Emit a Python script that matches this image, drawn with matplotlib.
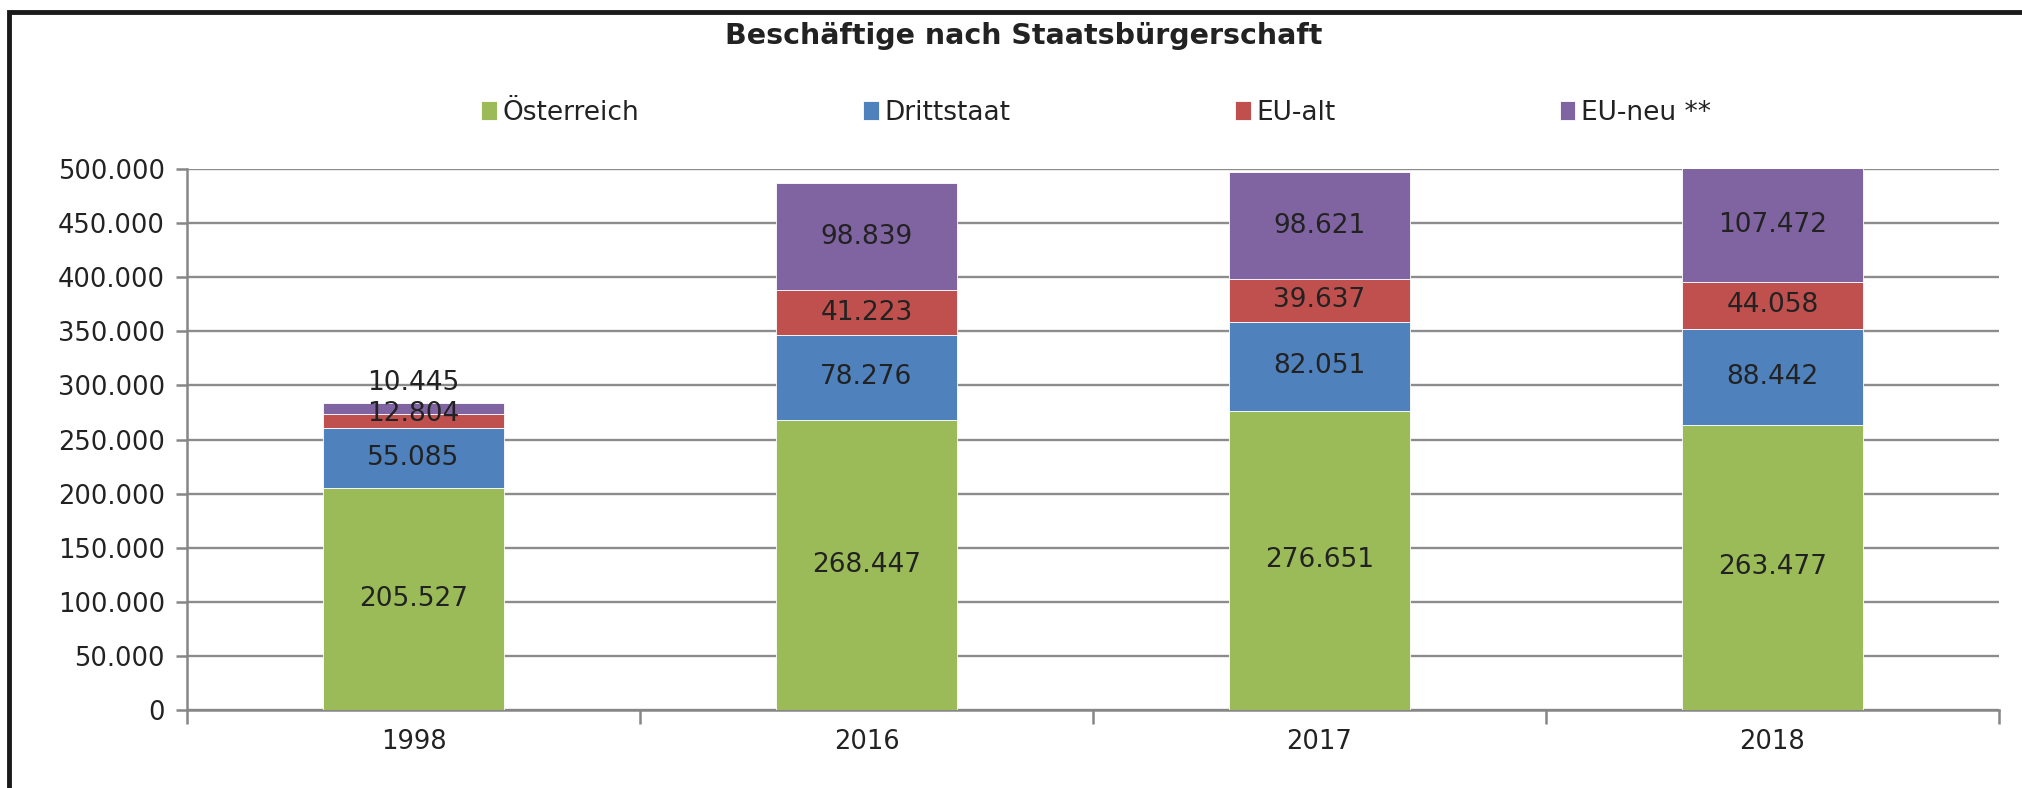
import matplotlib
matplotlib.use("Agg")
import matplotlib.pyplot as plt
from matplotlib.patches import Rectangle
import numpy as np

years = ["1998", "2016", "2017", "2018"]
oesterreich = [205527, 268447, 276651, 263477]
drittstaat = [55085, 78276, 82051, 88442]
eu_alt = [12804, 41223, 39637, 44058]
eu_neu = [10445, 98839, 98621, 107472]
series_names = ["Österreich", "Drittstaat", "EU-alt", "EU-neu **"]
colors = ["#9BBB59", "#4F81BD", "#C0504D", "#8064A2"]
y_ticks = [0, 50000, 100000, 150000, 200000, 250000, 300000, 350000, 400000, 450000, 500000]
title = "Beschäftige nach Staatsbürgerschaft"

def fmt(v):
    return f"{v:,}".replace(",", ".")

plt.rcParams['font.family'] = ['DejaVu Sans']
fig = plt.figure(figsize=(20.22, 7.88), dpi=100)
ax = fig.add_axes([187/2022, 1-710/788, (1999-187)/2022, (710-169)/788])

x = np.arange(len(years))
width = 0.4
bottom = np.zeros(len(years))
series = [oesterreich, drittstaat, eu_alt, eu_neu]
for s, (vals, name, col) in enumerate(zip(series, series_names, colors)):
    vals = np.array(vals, dtype=float)
    ax.bar(x, vals, width, bottom=bottom, color=col, label=name,
           edgecolor="white", linewidth=0.6, zorder=3)
    for i, v in enumerate(vals):
        dy = 0
        if i == 0 and s == 3:
            dy = 18.5
        elif i == 0 and s == 2:
            dy = 5.0
        top = min(bottom[i] + v, 500000)
        yc = (bottom[i] + top) / 2
        ax.annotate(fmt(int(v)), (x[i], yc), xytext=(0, dy), textcoords="offset points",
                    ha="center", va="center", fontsize=19, color="#222222", zorder=5,
                    annotation_clip=False)
    bottom += vals

ax.set_ylim(0, 500000)
ax.set_xlim(-0.5, 3.5)
ax.set_yticks(y_ticks)
ax.set_yticklabels([fmt(t) for t in y_ticks], fontsize=18.5, color="#222222")
ax.set_xticks([-0.5, 0.5, 1.5, 2.5, 3.5])
ax.set_xticklabels([])
ax.set_xticks(x, minor=True)
ax.set_xticklabels(years, minor=True, fontsize=18.5, color="#222222")
ax.tick_params(axis="x", which="major", direction="out", length=10, width=1.8, color="#868686")
ax.tick_params(axis="x", which="minor", length=0, pad=14)
ax.tick_params(axis="y", direction="out", length=8, width=1.8, color="#868686", pad=8)
ax.grid(axis="y", color="#8c8c8c", linewidth=1.7, zorder=0)
ax.set_axisbelow(True)
for side in ["top", "right"]:
    ax.spines[side].set_visible(False)
for side in ["left", "bottom"]:
    ax.spines[side].set_color("#868686")
    ax.spines[side].set_linewidth(1.8)

fig.text(1024/2022, 1-36/788, title, ha="center", va="center", fontsize=20.5,
         fontweight="bold", color="#222222")

fig.legend(loc="center", bbox_to_anchor=(1096/2022, 1-113/788), ncol=4, frameon=False,
           fontsize=19, handlelength=0.6, handleheight=0.75, handletextpad=0.2,
           columnspacing=8.5, labelcolor="#222222")

fig.patches.append(Rectangle((9/2022, -0.1), 1.2, 1-12/788+0.1, transform=fig.transFigure,
                             fill=False, edgecolor="#1a1a1a", linewidth=3.5, zorder=10))

fig.savefig("out.png", dpi=100)
